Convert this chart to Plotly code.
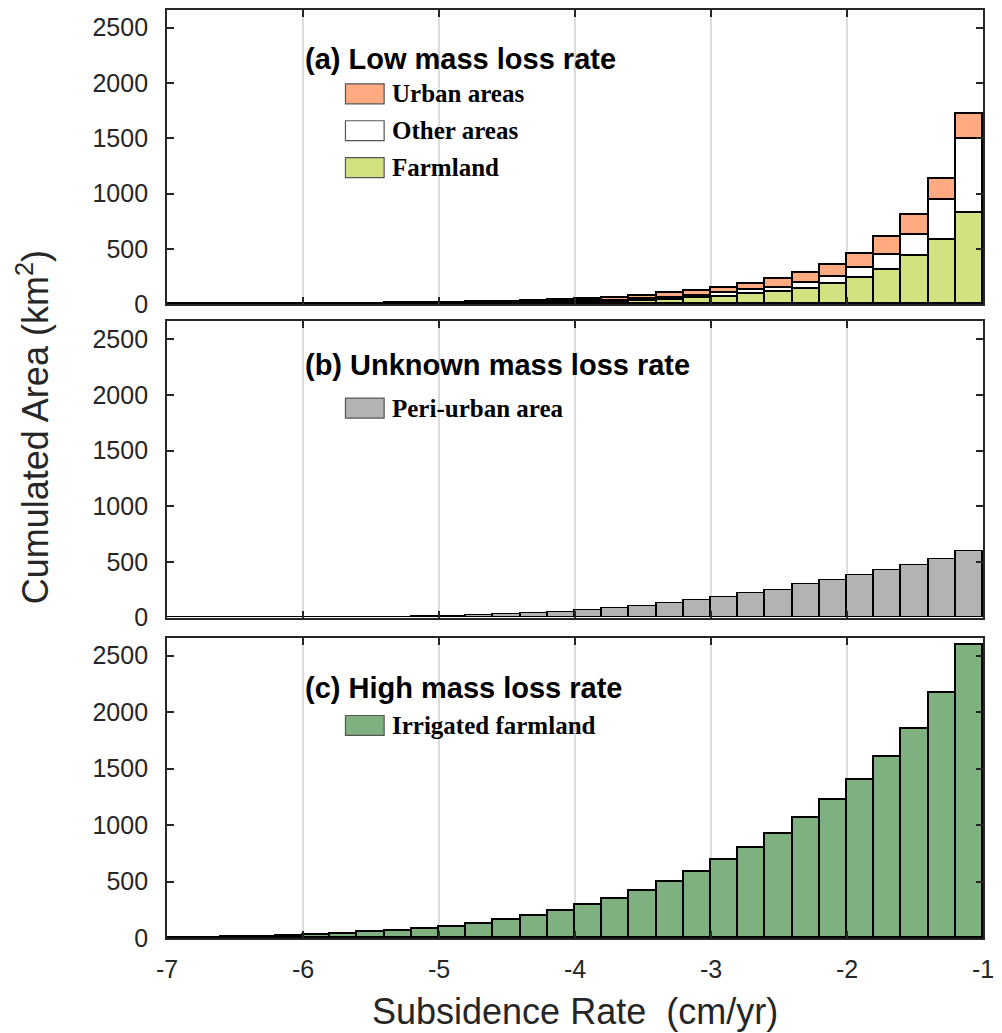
import plotly.graph_objects as go
from plotly.subplots import make_subplots

# Bin centres of subsidence rate (cm/yr), 0.2 cm/yr wide bins from -7 to -1
rate_bins = [-6.9, -6.7, -6.5, -6.3, -6.1, -5.9, -5.7, -5.5, -5.3, -5.1,
             -4.9, -4.7, -4.5, -4.3, -4.1, -3.9, -3.7, -3.5, -3.3, -3.1,
             -2.9, -2.7, -2.5, -2.3, -2.1, -1.9, -1.7, -1.5, -1.3, -1.1]
bin_width = 0.2

# (a) Low mass loss rate: cumulated area (km2) per land-use class (stacked)
farmland = [0, 0, 0, 0, 0, 1, 1, 1, 2, 2, 3, 4, 6, 8, 10,
            14, 20, 27, 39, 54, 68, 90, 111, 135, 180, 234, 314, 434, 584, 823]
other_areas = [0, 0, 0, 0, 1, 1, 1, 2, 2, 3, 4, 5, 6, 7, 9,
               12, 13, 18, 20, 23, 36, 36, 38, 59, 68, 95, 135, 195, 359, 674]
urban_areas = [0, 0, 0, 1, 1, 2, 2, 3, 4, 5, 7, 9, 11, 14, 18,
               24, 26, 30, 40, 42, 45, 59, 76, 87, 111, 129, 156, 180, 194, 219]

# (b) Unknown mass loss rate
peri_urban = [0, 0, 0, 1, 1, 2, 3, 5, 7, 10, 14, 20, 28, 38, 50,
              66, 84, 104, 130, 152, 182, 220, 250, 295, 335, 378, 424, 474, 522, 597]

# (c) High mass loss rate
irrigated = [2, 5, 9, 14, 20, 29, 41, 53, 64, 80, 100, 129, 162, 197, 241,
             292, 350, 418, 495, 586, 692, 800, 928, 1065, 1228, 1401, 1604, 1852, 2170, 2600]

x_ticks = [-7, -6, -5, -4, -3, -2, -1]
y_ticks = [0, 500, 1000, 1500, 2000, 2500]
y_max = 2660

panel_titles = ["(a) Low mass loss rate", "(b) Unknown mass loss rate", "(c) High mass loss rate"]
legend_entries = [
    [("Urban areas", "#FFAA80"), ("Other areas", "#FFFFFF"), ("Farmland", "#D4E180")],
    [("Peri-urban area", "#B3B3B3")],
    [("Irrigated farmland", "#7FB07F")],
]

W, H = 1002, 1033
L, R, T, B = 167, 12, 8, 95


def px(x):
    return (x - L) / (W - L - R)


def py(y):
    return (H - B - y) / (H - T - B)


fig = make_subplots(rows=3, cols=1, shared_xaxes=False, vertical_spacing=0.0)

domains = [(py(303), py(8)), (py(617), py(320)), (py(938), py(637))]

edge = dict(color="#000000", width=1.8)
fig.add_trace(go.Bar(x=rate_bins, y=farmland, width=bin_width, name="Farmland",
                     marker=dict(color=legend_entries[0][2][1], line=edge)), row=1, col=1)
fig.add_trace(go.Bar(x=rate_bins, y=other_areas, width=bin_width, name="Other areas",
                     marker=dict(color=legend_entries[0][1][1], line=edge)), row=1, col=1)
fig.add_trace(go.Bar(x=rate_bins, y=urban_areas, width=bin_width, name="Urban areas",
                     marker=dict(color=legend_entries[0][0][1], line=edge)), row=1, col=1)
fig.add_trace(go.Bar(x=rate_bins, y=peri_urban, width=bin_width, name="Peri-urban area",
                     marker=dict(color=legend_entries[1][0][1], line=edge)), row=2, col=1)
fig.add_trace(go.Bar(x=rate_bins, y=irrigated, width=bin_width, name="Irrigated farmland",
                     marker=dict(color=legend_entries[2][0][1], line=edge)), row=3, col=1)

axis_font = dict(family="Liberation Sans, Arial, sans-serif", size=25, color="#262626")
for i in range(3):
    n = "" if i == 0 else str(i + 1)
    fig.layout["xaxis" + n].update(
        domain=[0, 1], range=[-7, -1], tickmode="array", tickvals=x_ticks,
        ticktext=[str(v) for v in x_ticks], showticklabels=(i == 2),
        ticks="inside", ticklen=7, tickwidth=1.5, tickcolor="#262626",
        showline=True, linecolor="#262626", linewidth=1.8, mirror="allticks",
        showgrid=True, gridcolor="#DCDCDC", gridwidth=1.5, zeroline=False,
        tickfont=axis_font, ticklabelstandoff=8,
    )
    fig.layout["yaxis" + n].update(
        domain=list(domains[i]), range=[0, y_max], tickmode="array", tickvals=y_ticks,
        ticks="inside", ticklen=7, tickwidth=1.5, tickcolor="#262626",
        showline=True, linecolor="#262626", linewidth=1.8, mirror="allticks",
        showgrid=False, zeroline=False, tickfont=axis_font, ticklabelstandoff=12,
    )

# Panel headings and hand-drawn legends (white boxes hide the grid behind the text)
title_y = [57, 364, 687]
legend_y0 = [92, 407, 725]
row_step = 37
shapes = []
annotations = []
for i in range(3):
    ty = title_y[i]
    shapes.append(dict(type="rect", xref="paper", yref="paper",
                       x0=px(296), x1=px(632), y0=py(ty + 26), y1=py(ty - 27),
                       fillcolor="white", line=dict(width=0), layer="between"))
    n_rows = len(legend_entries[i])
    shapes.append(dict(type="rect", xref="paper", yref="paper",
                       x0=px(338), x1=px(572), y0=py(legend_y0[i] + row_step * (n_rows - 1) + 15),
                       y1=py(ty + 26), fillcolor="white", line=dict(width=0), layer="between"))
    annotations.append(dict(text="<b>" + panel_titles[i] + "</b>", xref="paper", yref="paper",
                            x=px(304), y=py(ty), xanchor="left", yanchor="middle", showarrow=False,
                            font=dict(family="Liberation Sans, Arial, sans-serif", size=29,
                                      color="#000000")))
    for k, (label, colour) in enumerate(legend_entries[i]):
        cy = legend_y0[i] + row_step * k
        shapes.append(dict(type="rect", xref="paper", yref="paper",
                           x0=px(347), x1=px(386), y0=py(cy + 10), y1=py(cy - 10),
                           fillcolor=colour, line=dict(color="#555555", width=1.2), layer="above"))
        annotations.append(dict(text="<b>" + label + "</b>", xref="paper", yref="paper",
                                x=px(392), y=py(cy), xanchor="left", yanchor="middle",
                                showarrow=False,
                                font=dict(family="Liberation Serif, Times New Roman, serif",
                                          size=25, color="#000000")))

# Axis titles
annotations.append(dict(text="Subsidence Rate\u00a0 (cm/yr)", xref="paper", yref="paper",
                        x=px(578), y=py(1012), xanchor="center", yanchor="middle",
                        showarrow=False,
                        font=dict(family="Liberation Sans, Arial, sans-serif", size=36,
                                  color="#262626")))
annotations.append(dict(text="Cumulated Area (km<sup>2</sup>)", xref="paper", yref="paper",
                        x=px(32), y=py(426), xanchor="center", yanchor="middle",
                        textangle=-90, showarrow=False,
                        font=dict(family="Liberation Sans, Arial, sans-serif", size=36,
                                  color="#262626")))

fig.update_layout(
    width=W, height=H, barmode="stack", bargap=0, showlegend=False,
    margin=dict(l=L, r=R, t=T, b=B, pad=0),
    paper_bgcolor="white", plot_bgcolor="white",
    shapes=shapes, annotations=annotations,
)

fig.write_html("out.html")
